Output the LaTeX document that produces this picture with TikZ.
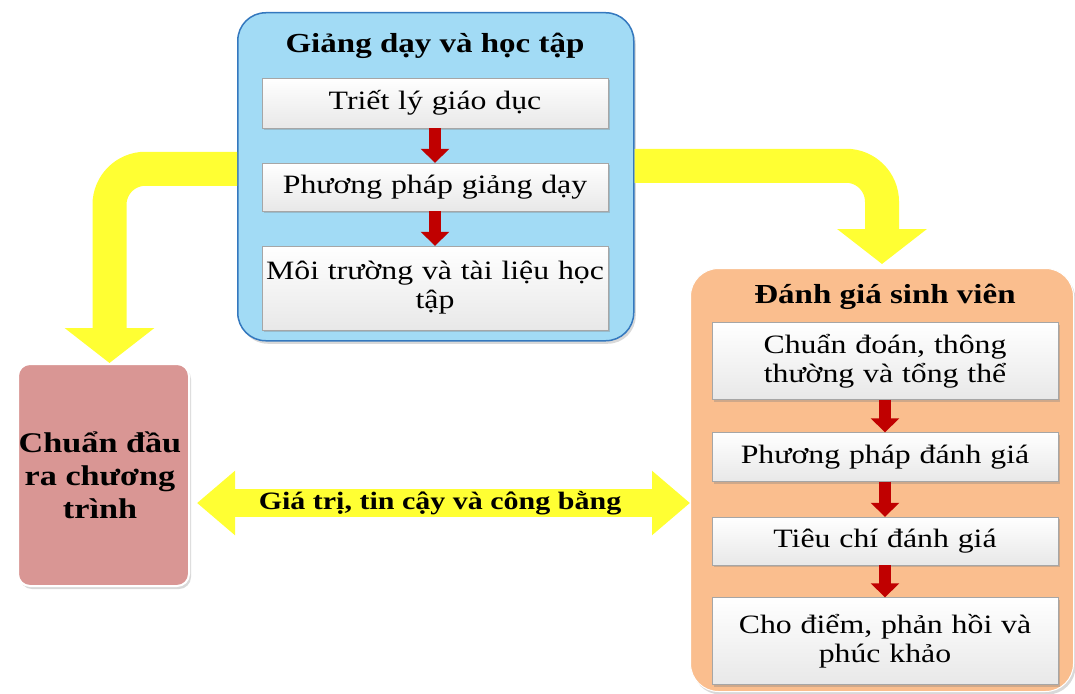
\documentclass[tikz,border=0pt]{standalone}
\usepackage{fontspec}
\setmainfont{Liberation Serif}[FakeStretch=1.2]
\usetikzlibrary{arrows.meta,shadows}

\definecolor{teachblue}{RGB}{162,219,245}
\definecolor{teachline}{RGB}{52,120,190}
\definecolor{assessorange}{RGB}{250,190,142}
\definecolor{outcomepink}{RGB}{217,150,148}
\definecolor{flowyellow}{RGB}{255,255,51}
\definecolor{flowred}{RGB}{192,0,0}

\begin{document}
\begin{tikzpicture}[%
    x=1pt,
    y=-1pt,
    font=\fontsize{26.5}{29}\selectfont,
    groupbox/.style={
      rectangle,
      anchor=north west,
      inner sep=0pt,
      rounded corners=28pt,
      drop shadow={opacity=0.3,shadow xshift=2pt,shadow yshift=-3pt}
    },
    stepbox/.style={
      rectangle,
      draw=gray!70,
      top color=white,
      bottom color=gray!18,
      minimum width=346pt,
      text width=340pt,
      align=center,
      inner sep=0pt,
      drop shadow={opacity=0.35,shadow xshift=2pt,shadow yshift=-2pt}
    },
    titletext/.style={
      font=\fontsize{27.5}{31}\selectfont\bfseries
    },
    flowarrow/.style={
      draw=flowyellow,
      line width=34pt,
      rounded corners=36pt,
      -{Triangle[width=88pt,length=35pt]}
    },
    steparrow/.style={
      draw=flowred,
      line width=12pt,
      -{Triangle[width=28pt,length=14pt]}
    },
  ]
    \useasboundingbox (0,0) rectangle (1075,693);

    % three main groups
    \node[groupbox, draw=teachline, line width=1.5pt, fill=teachblue,
          minimum width=396pt, minimum height=328pt] (teach) at (237,12) {};
    \node[groupbox, draw=white, line width=1pt, fill=assessorange,
          minimum width=383pt, minimum height=423pt] (assess) at (690,268) {};
    \node[groupbox, draw=white, line width=2pt, fill=outcomepink, rounded corners=12pt,
          minimum width=171pt, minimum height=222pt] (outcome) at (17,363) {};

    % teaching and learning
    \node[titletext] (teachtitle) at (435,46) {Giảng dạy và học tập};
    \node[stepbox, minimum height=50pt] (philo) at (435,103) {Triết lý giáo dục};
    \node[stepbox, minimum height=48pt] (method) at (435,187) {Phương pháp giảng dạy};
    \node[stepbox, minimum height=84pt] (env) at (435,288) {Môi trường và tài liệu học\\tập};
    \draw[steparrow] (philo) -- (method);
    \draw[steparrow] (method) -- (env);

    % student assessment
    \node[titletext] (assesstitle) at (885,297) {Đánh giá sinh viên};
    \node[stepbox, minimum height=77pt] (diag) at (885,361) {Chuẩn đoán, thông\\thường và tổng thể};
    \node[stepbox, minimum height=49pt] (amethod) at (885,457) {Phương pháp đánh giá};
    \node[stepbox, minimum height=48pt] (crit) at (885,541) {Tiêu chí đánh giá};
    \node[stepbox, minimum height=87pt] (grade) at (885,641) {Cho điểm, phản hồi và\\phúc khảo};
    \draw[steparrow] (diag) -- (amethod);
    \draw[steparrow] (amethod) -- (crit);
    \draw[steparrow] (crit) -- (grade);

    % program outcomes
    \node[titletext, font=\fontsize{28.5}{33}\selectfont\bfseries, align=center]
      (outcometext) at (100,475) {Chuẩn đầu\\ra chương\\trình};

    % yellow flows
    \draw[flowarrow] ([yshift=8pt]teach.west) -| ([xshift=6pt]outcome.north);
    \draw[flowarrow, shorten >=4pt] ([yshift=11pt]teach.east) -| (assess.north);
    \coordinate (midflow) at (440,503);
    \draw[draw=flowyellow, line width=28pt,
          {Triangle[width=62pt,length=38pt]}-{Triangle[width=62pt,length=38pt]},
          shorten <=7pt]
      (outcome.east |- midflow) -- (assess.west |- midflow)
      node[midway, black, font=\fontsize{25}{29}\selectfont\bfseries]
      {Giá trị, tin cậy và công bằng};
  \end{tikzpicture}
\end{document}
